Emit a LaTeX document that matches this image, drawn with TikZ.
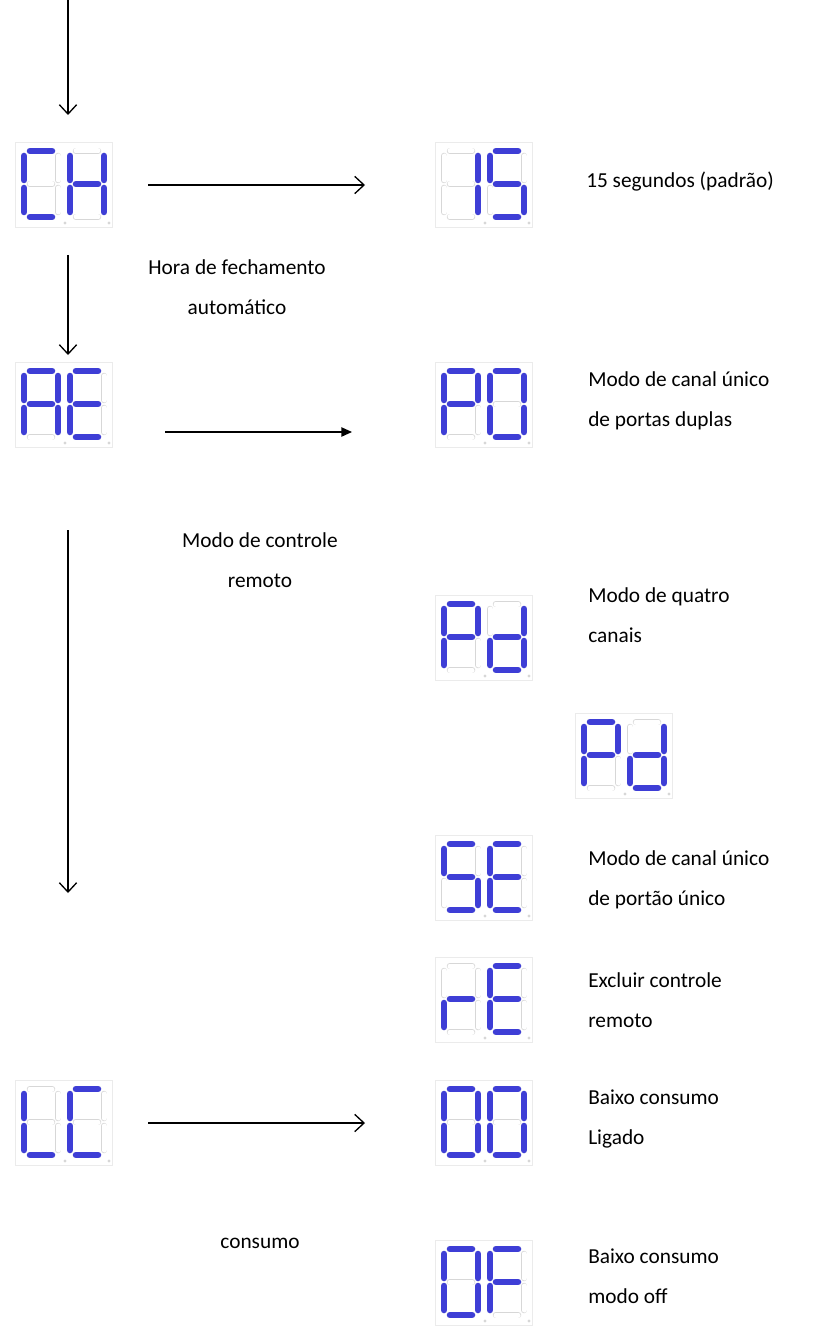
\documentclass[tikz,border=0pt]{standalone}
\usepackage{fontspec}
\setmainfont{Carlito}
\usetikzlibrary{arrows.meta}
\definecolor{seg}{RGB}{62,62,214}
\definecolor{segoff}{RGB}{215,215,215}
\tikzset{
  disp/.style={draw=black!8,line width=0.8pt,minimum width=97*0.75pt,minimum height=85*0.75pt,inner sep=0pt},
  lbl/.style={font=\fontsize{16}{30}\selectfont,align=left,anchor=north west,inner sep=0pt},
  lblc/.style={font=\fontsize{16}{30}\selectfont,align=center,anchor=north,inner sep=0pt},
  openarrow/.style={-{Straight Barb[length=7pt,width=13pt,line width=1pt]},line width=1pt},
  filledarrow/.style={-{Triangle[length=8pt,width=7pt]},line width=1pt},
  segon/.style={line width=6.5*0.75pt,line cap=round,seg},
  segoffo/.style={line width=6.5*0.75pt,line cap=round,segoff},
  segoffi/.style={line width=5*0.75pt,line cap=round,white},
}
\def\sega{(6,0)--(28,0)}
\def\segb{(34,5)--(34,29)}
\def\segc{(34,37)--(34,61)}
\def\segd{(6,66)--(28,66)}
\def\sege{(0,37)--(0,61)}
\def\segf{(0,5)--(0,29)}
\def\segg{(6,33)--(28,33)}
\newcommand{\mydigit}[3]{%
  \begin{scope}[shift={(#1,#2)}]
    \foreach \s in {a,b,c,d,e,f,g}{\draw[segoffo] \csname seg\s\endcsname;}
    \foreach \s in {a,b,c,d,e,f,g}{\draw[segoffi] \csname seg\s\endcsname;}
    \foreach \s in {#3}{\draw[segon] \csname seg\s\endcsname;}
  \end{scope}}
\newcommand{\mydisp}[5]{%
  \node[disp,anchor=north west] (#1) at (#2,#3) {};
  \mydigit{#2+9}{#3+9}{#4}
  \mydigit{#2+55}{#3+9}{#5}
  \fill[segoff] (#2+50,#3+81) circle (1.6);
  \fill[segoff] (#2+94,#3+81) circle (1.6);}
\begin{document}
\begin{tikzpicture}[x=0.75pt,y=-0.75pt]
\useasboundingbox (0,0) rectangle (829,1337);
\mydisp{CH}{15}{142}{a,d,e,f}{b,c,e,f,g}
\mydisp{d15}{435}{142}{b,c}{a,f,g,c,d}
\mydisp{AE}{15}{362}{a,b,c,e,f,g}{a,d,e,f,g}
\mydisp{P0}{435}{362}{a,b,e,f,g}{a,b,c,d,e,f}
\mydisp{Pd}{435}{595}{a,b,e,f,g}{b,c,d,e,g}
\mydisp{Pdb}{575}{713}{a,b,e,f,g}{b,c,d,e,g}
\mydisp{SE}{435}{835}{a,f,g,c,d}{a,d,e,f,g}
\mydisp{rE}{435}{957}{e,g}{a,d,e,f,g}
\mydisp{LC}{15}{1080}{d,e,f}{a,d,e,f}
\mydisp{OO}{435}{1080}{a,b,c,d,e,f}{a,b,c,d,e,f}
\mydisp{OF}{435}{1240}{a,b,c,d,e,f}{a,e,f,g}

\coordinate (top) at (68,0);
\draw[openarrow] (top) -- (68,115);
\draw[openarrow] (68,255) -- (68,355);
\draw[openarrow] (68,530) -- (68,893);
\draw[openarrow] (148,185) -- (365,185);
\draw[filledarrow] (165,432) -- (352,432);
\draw[openarrow] (148,1123) -- (365,1123);

\node[lbl] (t15) at (586,172) {15 segundos (padrão)};
\node[lblc] (tCH) at (237,259) {Hora de fechamento\\automático};
\node[lblc] (tAE) at (260,532) {Modo de controle\\remoto};
\node[lbl] (tP0) at (588,371) {Modo de canal único\\de portas duplas};
\node[lbl] (tPd) at (588,587) {Modo de quatro\\canais};
\node[lbl] (tSE) at (588,850) {Modo de canal único\\de portão único};
\node[lbl] (trE) at (588,972) {Excluir controle\\remoto};
\node[lbl] (tOO) at (588,1090) {Baixo consumo\\Ligado};
\node[lblc] (tLC) at (260,1238) {consumo};
\node[lbl] (tOF) at (588,1249) {Baixo consumo\\modo off};
\end{tikzpicture}
\end{document}
